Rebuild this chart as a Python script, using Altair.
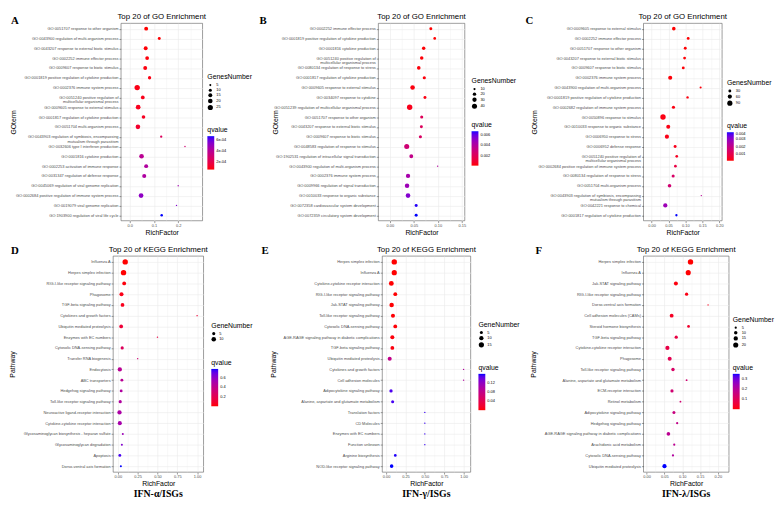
import altair as alt
import pandas as pd

# ---------------- Panel A : GO, IFN-alpha ----------------
a_terms = [
    "GO:0051707 response to other organism",
    "GO:0043900 regulation of multi-organism process",
    "GO:0043207 response to external biotic stimulus",
    "GO:0002252 immune effector process",
    "GO:0009607 response to biotic stimulus",
    "GO:0001819 positive regulation of cytokine production",
    "GO:0002376 immune system process",
    "GO:0051240 positive regulation of|multicellular organismal process",
    "GO:0009605 response to external stimulus",
    "GO:0001817 regulation of cytokine production",
    "GO:0051704 multi-organism process",
    "GO:0043903 regulation of symbiosis, encompassing|mutualism through parasitism",
    "GO:0032606 type I interferon production",
    "GO:0001816 cytokine production",
    "GO:0002253 activation of immune response",
    "GO:0031347 regulation of defense response",
    "GO:0045069 regulation of viral genome replication",
    "GO:0002684 positive regulation of immune system process",
    "GO:0019079 viral genome replication",
    "GO:1903900 regulation of viral life cycle",
]
a_rich = [0.068, 0.122, 0.066, 0.072, 0.064, 0.082, 0.031, 0.054, 0.035, 0.057,
          0.034, 0.130, 0.228, 0.049, 0.068, 0.060, 0.200, 0.047, 0.193, 0.132]
a_genes = [15, 9, 15, 14, 15, 11, 27, 14, 21, 13, 20, 6, 3, 20, 15, 16, 3, 21, 3, 7]
a_q = [5.5e-5, 5.8e-5, 6.2e-5, 6.6e-5, 7.0e-5, 7.5e-5, 8.0e-5, 8.6e-5, 9.2e-5, 1.0e-4,
       1.25e-4, 2.4e-4, 3.0e-4, 3.9e-4, 4.2e-4, 4.3e-4, 4.7e-4, 5.2e-4, 5.5e-4, 6.7e-4]

# ---------------- Panel B : GO, IFN-gamma ----------------
b_terms = [
    "GO:0002252 immune effector process",
    "GO:0001819 positive regulation of cytokine production",
    "GO:0001816 cytokine production",
    "GO:0051240 positive regulation of|multicellular organismal process",
    "GO:0080134 regulation of response to stress",
    "GO:0001817 regulation of cytokine production",
    "GO:0009605 response to external stimulus",
    "GO:0034097 response to cytokine",
    "GO:0051239 regulation of multicellular organismal process",
    "GO:0051707 response to other organism",
    "GO:0043207 response to external biotic stimulus",
    "GO:0009607 response to biotic stimulus",
    "GO:0048583 regulation of response to stimulus",
    "GO:1902531 regulation of intracellular signal transduction",
    "GO:0043900 regulation of multi-organism process",
    "GO:0002376 immune system process",
    "GO:0009966 regulation of signal transduction",
    "GO:0010033 response to organic substance",
    "GO:0072358 cardiovascular system development",
    "GO:0072359 circulatory system development",
]
b_rich = [0.0855, 0.0936, 0.0706, 0.0665, 0.0604, 0.0719, 0.0475, 0.0733, 0.0414, 0.0665,
          0.0658, 0.0638, 0.0353, 0.0448, 0.0997, 0.0380, 0.0360, 0.0380, 0.0550, 0.0550]
b_genes = [16, 14, 20, 21, 22, 18, 33, 16, 45, 17, 16, 17, 40, 25, 6, 30, 32, 34, 16, 16]
b_q = [1.0e-4, 1.2e-4, 1.5e-4, 1.8e-4, 2.0e-4, 2.3e-4, 2.6e-4, 3.0e-4, 4.5e-4, 2.0e-3,
       2.1e-3, 2.3e-3, 2.8e-3, 3.4e-3, 4.0e-3, 4.4e-3, 4.7e-3, 5.4e-3, 6.6e-3, 6.7e-3]

# ---------------- Panel C : GO, IFN-lambda ----------------
c_terms = [
    "GO:0009605 response to external stimulus",
    "GO:0002252 immune effector process",
    "GO:0051707 response to other organism",
    "GO:0043207 response to external biotic stimulus",
    "GO:0009607 response to biotic stimulus",
    "GO:0002376 immune system process",
    "GO:0043900 regulation of multi-organism process",
    "GO:0001819 positive regulation of cytokine production",
    "GO:0002682 regulation of immune system process",
    "GO:0050896 response to stimulus",
    "GO:0010033 response to organic substance",
    "GO:0006950 response to stress",
    "GO:0006952 defense response",
    "GO:0051240 positive regulation of|multicellular organismal process",
    "GO:0002684 positive regulation of immune system process",
    "GO:0080134 regulation of response to stress",
    "GO:0051704 multi-organism process",
    "GO:0043903 regulation of symbiosis, encompassing|mutualism through parasitism",
    "GO:0042221 response to chemical",
    "GO:0001817 regulation of cytokine production",
]
c_rich = [0.0657, 0.1082, 0.0995, 0.0976, 0.0937, 0.0551, 0.1449, 0.1063, 0.0647, 0.0338,
          0.0493, 0.0454, 0.0696, 0.0744, 0.0705, 0.0638, 0.0531, 0.1469, 0.0406, 0.0734]
c_genes = [45, 28, 30, 29, 30, 58, 17, 22, 35, 98, 55, 60, 32, 26, 27, 34, 45, 9, 62, 20]
c_q = [1e-5, 2e-5, 3e-5, 4e-5, 5e-5, 6e-5, 8e-5, 1.0e-4, 1.2e-4, 1.4e-4,
       1.6e-4, 1.8e-4, 2.3e-4, 3.0e-4, 8.0e-4, 1.4e-3, 1.6e-3, 2.2e-3, 2.8e-3, 4.0e-3]

# ---------------- Panel D : KEGG, IFN-alpha ----------------
d_terms = [
    "Influenza A", "Herpes simplex infection", "RIG-I-like receptor signaling pathway",
    "Phagosome", "TGF-beta signaling pathway", "Cytokines and growth factors",
    "Ubiquitin mediated proteolysis", "Enzymes with EC numbers",
    "Cytosolic DNA-sensing pathway", "Transfer RNA biogenesis", "Endocytosis",
    "ABC transporters", "Hedgehog signaling pathway", "Toll-like receptor signaling pathway",
    "Neuroactive ligand-receptor interaction", "Cytokine-cytokine receptor interaction",
    "Glycosaminoglycan biosynthesis - heparan sulfate", "Glycosaminoglycan degradation",
    "Apoptosis", "Dorso-ventral axis formation",
]
d_rich = [0.093, 0.072, 0.080, 0.046, 0.059, 1.0, 0.042, 0.5, 0.055, 0.25,
          0.025, 0.051, 0.042, 0.030, 0.021, 0.025, 0.063, 0.051, 0.025, 0.038]
d_genes = [14, 14, 7, 8, 7, 1, 7, 1, 5, 1, 9, 4, 4, 5, 9, 8, 2, 2, 4, 2]
d_q = [0.005, 0.006, 0.02, 0.04, 0.05, 0.12, 0.12, 0.16, 0.24, 0.32,
       0.43, 0.43, 0.47, 0.47, 0.49, 0.51, 0.55, 0.63, 0.74, 0.78]

# ---------------- Panel E : KEGG, IFN-gamma ----------------
e_terms = [
    "Herpes simplex infection", "Influenza A", "Cytokine-cytokine receptor interaction",
    "RIG-I-like receptor signaling pathway", "Jak-STAT signaling pathway",
    "Toll-like receptor signaling pathway", "Cytosolic DNA-sensing pathway",
    "AGE-RAGE signaling pathway in diabetic complications", "TGF-beta signaling pathway",
    "Ubiquitin mediated proteolysis", "Cytokines and growth factors", "Cell adhesion molecules",
    "Adipocytokine signaling pathway", "Alanine, aspartate and glutamate metabolism",
    "Translation factors", "CD Molecules", "Enzymes with EC numbers", "Function unknown",
    "Arginine biosynthesis", "NOD-like receptor signaling pathway",
]
e_rich = [0.106, 0.106, 0.068, 0.119, 0.072, 0.089, 0.119, 0.081, 0.081, 0.047,
          1.0, 1.0, 0.064, 0.085, 0.5, 0.5, 0.5, 0.5, 0.119, 0.072]
e_genes = [16, 15, 13, 8, 11, 9, 8, 9, 8, 9, 1, 1, 6, 5, 1, 1, 1, 1, 4, 7]
e_q = [1e-4, 2e-4, 5e-4, 8e-4, 1e-3, 1.5e-3, 2e-3, 3e-3, 4e-3, 0.08,
       0.095, 0.095, 0.15, 0.152, 0.155, 0.155, 0.155, 0.155, 0.158, 0.16]

# ---------------- Panel F : KEGG, IFN-lambda ----------------
f_terms = [
    "Herpes simplex infection", "Influenza A", "Jak-STAT signaling pathway",
    "RIG-I-like receptor signaling pathway", "Dorso-ventral axis formation",
    "Cell adhesion molecules (CAMs)", "Steroid hormone biosynthesis",
    "TGF-beta signaling pathway", "Cytokine-cytokine receptor interaction", "Phagosome",
    "Toll-like receptor signaling pathway", "Alanine, aspartate and glutamate metabolism",
    "ECM-receptor interaction", "Retinol metabolism", "Adipocytokine signaling pathway",
    "Hedgehog signaling pathway", "AGE-RAGE signaling pathway in diabetic complications",
    "Arachidonic acid metabolism", "Cytosolic DNA-sensing pathway",
    "Ubiquitin mediated proteolysis",
]
f_rich = [0.1233, 0.1169, 0.0822, 0.1123, 0.1726, 0.0703, 0.1178, 0.0831, 0.0584, 0.0648,
          0.0740, 0.1123, 0.0712, 0.0950, 0.0767, 0.0858, 0.0612, 0.0776, 0.0740, 0.0502]
f_genes = [22, 20, 13, 9, 3, 12, 7, 9, 14, 13, 10, 4, 9, 4, 8, 5, 11, 5, 5, 14]
f_q = [0.002, 0.003, 0.01, 0.015, 0.02, 0.03, 0.04, 0.07, 0.075, 0.09,
       0.12, 0.14, 0.14, 0.14, 0.16, 0.175, 0.19, 0.19, 0.21, 0.35]

panel_letters = ["A", "B", "C", "D", "E", "F"]
bottom_labels = ["IFN-α/ISGs", "IFN-γ/ISGs", "IFN-λ/ISGs"]

FONT = "Liberation Sans"
H1, H2 = 201, 220
ROW2_Y = 237  # vertical offset of the second row of panels


def panel(terms, rich, genes, q, *, title, ytitle, size_title, size_vals, q_vals, q_format,
          q_expr, xdom, xmaj, xminor, xfmt, w, h, ytx, legx, sly, qly, glen, bottom=None):
    df = pd.DataFrame({"term": terms, "rich": rich, "genes": genes, "q": q})
    ticks = sorted(xmaj + xminor)
    maj = " || ".join(f"abs(datum.value - ({v})) < 1e-9" for v in xmaj)
    x_axis = alt.Axis(
        values=ticks, format=xfmt, labelExpr=f"({maj}) ? datum.label : ''",
        grid=True, gridColor="#EBEBEB",
        gridWidth={"condition": {"test": maj, "value": 0.6}, "value": 0.3},
        tickOpacity={"condition": {"test": maj, "value": 1}, "value": 0},
        labelOverlap=False, title="RichFactor",
    )
    y_axis = alt.Axis(
        labelExpr="split(datum.label, '|')", labelLineHeight=4.5, grid=True,
        gridColor="#EBEBEB", gridWidth=0.6, title=ytitle, titleX=ytx, titleY=h / 2,
        titleAngle=270, titleAlign="center", titleBaseline="middle", labelOverlap=False,
        labelLimit=300,
    )
    leg_size = alt.Legend(
        orient="none", legendX=w + legx, legendY=sly, values=size_vals,
        symbolFillColor="black", symbolStrokeColor="black", symbolType="circle",
        symbolStrokeWidth=0, rowPadding=1.2, direction="vertical", title=size_title,
    )
    leg_kw = dict(
        orient="none", legendX=w + legx, legendY=qly, values=q_vals, type="gradient",
        direction="vertical", gradientLength=glen, gradientThickness=7,
        gradientStrokeWidth=0, title="qvalue",
    )
    if q_expr:
        leg_kw["labelExpr"] = q_expr
    else:
        leg_kw["format"] = q_format
    leg_q = alt.Legend(**leg_kw)

    pts = alt.Chart(df).mark_circle(opacity=1, color="black").encode(
        x=alt.X("rich:Q", scale=alt.Scale(domain=xdom, nice=False, zero=False), axis=x_axis),
        y=alt.Y("term:N", sort=terms, scale=alt.Scale(type="point", padding=0.55), axis=y_axis),
        size=alt.Size("genes:Q", scale=alt.Scale(domain=[min(genes), max(genes)],
                                                  range=[2, 30], zero=False, nice=False),
                      legend=leg_size),
        color=alt.Color("q:Q", scale=alt.Scale(domain=[min(q), max(q)], range=["#FF0000", "#0000FF"],
                                               interpolate="lab", zero=False, nice=False),
                        legend=leg_q),
    )
    layers = [pts]
    if bottom:
        bt = alt.Chart(pd.DataFrame({"t": [bottom]})).mark_text(
            font="Liberation Serif", fontWeight="bold", fontSize=10, align="center",
            baseline="middle", color="black",
        ).encode(text="t:N", x=alt.value(w / 2), y=alt.value(h + 22))
        layers.append(bt)
    return alt.layer(*layers).properties(
        width=w, height=h,
        title=alt.TitleParams(title, fontSize=8, fontWeight="normal", font=FONT,
                              anchor="middle", offset=2, color="black", frame="group"),
    )


A = panel(a_terms, a_rich, a_genes, a_q, title="Top 20 of GO Enrichment", ytitle="GOterm",
          size_title="GenesNumber", size_vals=[5, 10, 15, 20, 25],
          q_vals=[2e-4, 4e-4, 6e-4], q_format=None,
          q_expr="format(datum.value * 10000, '.0f') + 'e-04'",
          xdom=[-0.036, 0.30], xmaj=[0.0, 0.1, 0.2], xminor=[0.05, 0.15, 0.25], xfmt=".1f",
          w=83, h=H1, ytx=-109, legx=5, sly=51, qly=105, glen=34)
B = panel(b_terms, b_rich, b_genes, b_q, title="Top 20 of GO Enrichment", ytitle="GOterm",
          size_title="GenesNumber", size_vals=[10, 20, 30, 40],
          q_vals=[0.002, 0.004, 0.006], q_format=".3f", q_expr=None,
          xdom=[-0.024, 0.156], xmaj=[0.0, 0.05, 0.10, 0.15], xminor=[0.025, 0.075, 0.125],
          xfmt=".2f", w=88, h=H1, ytx=-105, legx=7, sly=55, qly=100, glen=35)
C = panel(c_terms, c_rich, c_genes, c_q, title="Top 20 of GO Enrichment", ytitle="GOterm",
          size_title="GenesNumber", size_vals=[30, 60, 90],
          q_vals=[0.001, 0.002, 0.003, 0.004], q_format=".3f", q_expr=None,
          xdom=[-0.024, 0.208], xmaj=[0.0, 0.05, 0.10, 0.15, 0.20],
          xminor=[0.025, 0.075, 0.125, 0.175], xfmt=".2f", w=80, h=H1, ytx=-111, legx=5,
          sly=57, qly=101, glen=29)
D = panel(d_terms, d_rich, d_genes, d_q, title="Top 20 of KEGG Enrichment", ytitle="Pathway",
          size_title="GeneNumber", size_vals=[5, 10],
          q_vals=[0.2, 0.4, 0.6], q_format=".1f", q_expr=None,
          xdom=[-0.06, 1.08], xmaj=[0.0, 0.25, 0.5, 0.75, 1.0],
          xminor=[0.125, 0.375, 0.625, 0.875], xfmt=".2f", w=92, h=H2, ytx=-102, legx=8,
          sly=67, qly=105, glen=38, bottom=bottom_labels[0])
E = panel(e_terms, e_rich, e_genes, e_q, title="Top 20 of KEGG Enrichment", ytitle="Pathway",
          size_title="GeneNumber", size_vals=[5, 10, 15],
          q_vals=[0.04, 0.08, 0.12], q_format=".2f", q_expr=None,
          xdom=[-0.05, 1.09], xmaj=[0.0, 0.25, 0.5, 0.75, 1.0],
          xminor=[0.125, 0.375, 0.625, 0.875], xfmt=".2f", w=90, h=H2, ytx=-111, legx=8,
          sly=66, qly=110, glen=37, bottom=bottom_labels[1])
F = panel(f_terms, f_rich, f_genes, f_q, title="Top 20 of KEGG Enrichment", ytitle="Pathway",
          size_title="GeneNumber", size_vals=[5, 10, 15, 20],
          q_vals=[0.1, 0.2, 0.3], q_format=".1f", q_expr=None,
          xdom=[-0.009, 0.231], xmaj=[0.0, 0.05, 0.10, 0.15, 0.20],
          xminor=[0.025, 0.075, 0.125, 0.175], xfmt=".2f", w=87, h=H2, ytx=-112, legx=4,
          sly=61, qly=110, glen=36, bottom=bottom_labels[2])

# panel letters, drawn from a tiny invisible view placed at the origin of the first row
letter_pos = [(-104, -2), (149, -2), (420, -2),
              (-104, ROW2_Y - 5), (151, ROW2_Y - 5), (430, ROW2_Y - 5)]
letter_layers = []
for lab, (lx, ly) in zip(panel_letters, letter_pos):
    letter_layers.append(
        alt.Chart(pd.DataFrame({"t": [lab]})).mark_text(
            font="Liberation Serif", fontWeight="bold", fontSize=11, align="left",
            baseline="middle", color="black",
        ).encode(text="t:N", x=alt.value(lx), y=alt.value(ly))
    )
spacer = alt.layer(*letter_layers).properties(
    width=1, height=1, view=alt.ViewBackground(stroke="transparent")
)

RES = dict(x="independent", y="independent", color="independent", size="independent")

row1 = alt.hconcat(
    spacer,
    alt.hconcat(A, alt.hconcat(B, C, spacing=182, bounds="flush").resolve_scale(**RES),
                spacing=179, bounds="flush").resolve_scale(**RES),
    spacing=7, bounds="flush",
).resolve_scale(**RES)
row2 = alt.hconcat(
    D, alt.hconcat(E, F, spacing=176, bounds="flush").resolve_scale(**RES),
    spacing=182, bounds="flush",
).resolve_scale(**RES)

# with flush bounds a nested row counts as zero height, so the spacing is the row offset
chart = alt.vconcat(row1, row2, spacing=ROW2_Y, bounds="flush").resolve_scale(**RES).properties(
    padding=0
).configure(font=FONT).configure_view(
    stroke="#5A5A5A", strokeWidth=0.6
).configure_axis(
    labelFont=FONT, labelFontSize=4, labelColor="#4D4D4D", labelPadding=1,
    tickColor="#333333", tickWidth=0.5, tickSize=2, domain=False,
    titleFont=FONT, titleFontSize=7, titleFontWeight="normal", titleColor="black",
    titlePadding=1,
).configure_legend(
    titleFont=FONT, titleFontSize=7, titleFontWeight="normal", titleColor="black",
    labelFont=FONT, labelFontSize=4, labelColor="black", titlePadding=3, labelOffset=3,
)

chart.save("out.html", embed_options={"renderer": "svg", "actions": False})
